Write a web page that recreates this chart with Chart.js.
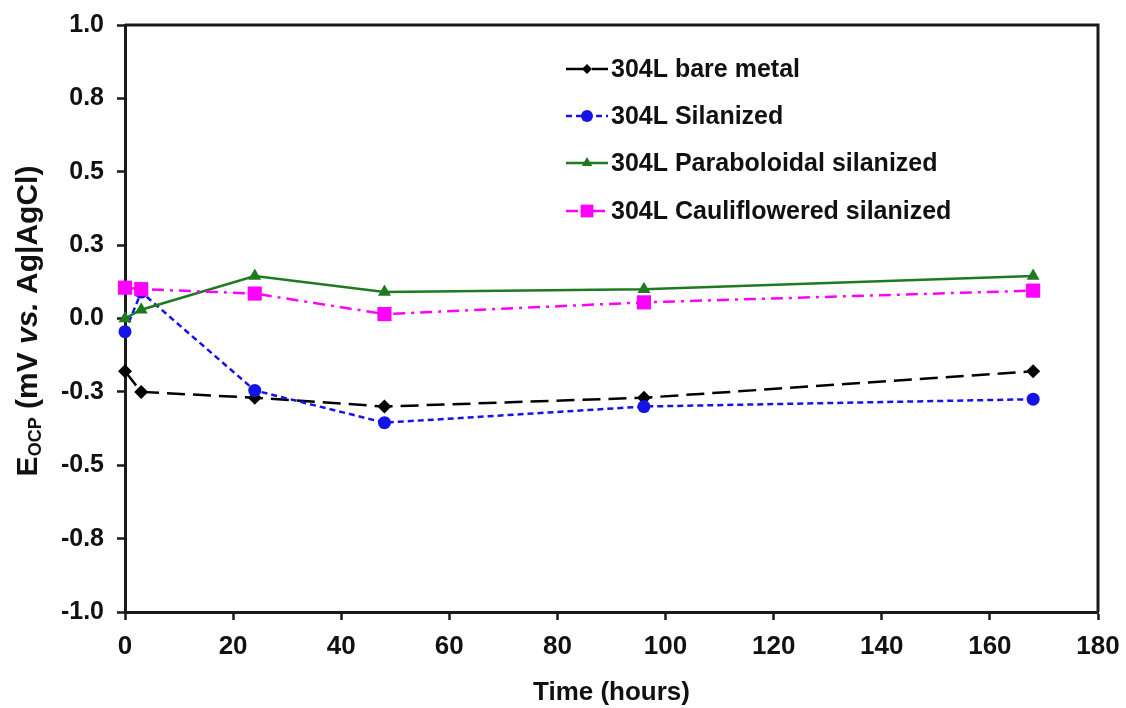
<!DOCTYPE html>
<html>
<head>
<meta charset="utf-8">
<script src="https://cdn.jsdelivr.net/npm/chart.js@4.4.1/dist/chart.umd.min.js"></script>
<style>
  html, body { margin: 0; padding: 0; background: #fff; }
  #wrap { width: 1126px; height: 708px; }
</style>
</head>
<body>
<div id="wrap"><canvas id="myChart" width="1126" height="708"></canvas></div>
<script>
// values (hours, V vs Ag|AgCl)
const times = [0, 3, 24, 48, 96, 168];
const bareMetal = [-0.18, -0.25, -0.27, -0.30, -0.27, -0.18];
const silanized = [-0.045, 0.09, -0.245, -0.355, -0.30, -0.275];
const paraboloidal = [0.0, 0.03, 0.145, 0.09, 0.10, 0.145];
const cauliflowered = [0.105, 0.10, 0.085, 0.015, 0.055, 0.095];

const seriesNames = ['304L bare metal', '304L Silanized', '304L Paraboloidal silanized', '304L Cauliflowered silanized'];
const yTickValues = [-1, -0.75, -0.5, -0.25, 0, 0.25, 0.5, 0.75, 1];
const yTickLabels = ['-1.0', '-0.8', '-0.5', '-0.3', '0.0', '0.3', '0.5', '0.8', '1.0'];

const FONT = "'Liberation Sans', Arial, sans-serif";

function toPoints(values) {
    return times.map((t, i) => ({ x: t, y: values[i] }));
}

// frame, y title and legend
const decorations = {
    id: 'decorations',
    afterDraw(chart) {
        const ctx = chart.ctx;
        const area = chart.chartArea;
        ctx.save();
        // top and right frame lines
        ctx.strokeStyle = '#1a1a1a';
        ctx.lineWidth = 3;
        ctx.beginPath();
        ctx.moveTo(area.left, area.top);
        ctx.lineTo(area.right, area.top);
        ctx.lineTo(area.right, area.bottom);
        ctx.stroke();

        // y axis title with subscript
        ctx.translate(29, 321);
        ctx.rotate(-Math.PI / 2);
        ctx.fillStyle = '#111';
        ctx.textBaseline = 'middle';
        const parts = [
            { t: 'E', f: 'bold 30px ' + FONT, dy: 0 },
            { t: 'OCP', f: 'bold 18px ' + FONT, dy: 7 },
            { t: ' (mV ', f: 'bold 30px ' + FONT, dy: 0 },
            { t: 'vs.', f: 'italic bold 30px ' + FONT, dy: 0 },
            { t: ' Ag|AgCl)', f: 'bold 30px ' + FONT, dy: 0 }
        ];
        let total = 0;
        parts.forEach(p => { ctx.font = p.f; p.w = ctx.measureText(p.t).width; total += p.w; });
        let x = -total / 2;
        parts.forEach(p => {
            ctx.font = p.f;
            ctx.fillText(p.t, x, p.dy);
            x += p.w;
        });
        ctx.restore();

        // legend
        ctx.save();
        const rows = [69, 116, 163, 211];
        chart.data.datasets.forEach((ds, i) => {
            const y = rows[i];
            ctx.strokeStyle = ds.borderColor;
            ctx.lineWidth = 2.5;
            ctx.setLineDash(ds.borderDash || []);
            ctx.beginPath();
            ctx.moveTo(566, y);
            ctx.lineTo(608, y);
            ctx.stroke();
            ctx.setLineDash([]);
            ctx.fillStyle = ds.pointBackgroundColor;
            Chart.helpers.drawPoint(ctx, {
                pointStyle: ds.pointStyle,
                radius: ds.legendRadius,
                borderWidth: 0,
                rotation: 0
            }, 587, y);
            ctx.fillStyle = '#111';
            ctx.font = 'bold 25px ' + FONT;
            ctx.textBaseline = 'middle';
            ctx.fillText(seriesNames[i], 611, y + 1);
        });
        ctx.restore();
    }
};

const ctx = document.getElementById('myChart').getContext('2d');
new Chart(ctx, {
    type: 'line',
    data: {
        datasets: [
            {
                label: seriesNames[0],
                data: toPoints(bareMetal),
                borderColor: '#000000',
                borderWidth: 2.5,
                borderDash: [18, 8],
                pointStyle: 'rectRot',
                pointRadius: 7,
                legendRadius: 5,
                pointBackgroundColor: '#000000',
                pointBorderWidth: 0,
                order: 4
            },
            {
                label: seriesNames[1],
                data: toPoints(silanized),
                borderColor: '#1414e6',
                borderWidth: 2.5,
                borderDash: [6, 4],
                pointStyle: 'circle',
                pointRadius: 6.5,
                legendRadius: 6,
                pointBackgroundColor: '#1414e6',
                pointBorderWidth: 0,
                order: 3
            },
            {
                label: seriesNames[2],
                data: toPoints(paraboloidal),
                borderColor: '#1f7a1f',
                borderWidth: 2.5,
                borderDash: [],
                pointStyle: 'triangle',
                pointRadius: 7.5,
                legendRadius: 6,
                pointBackgroundColor: '#1f7a1f',
                pointBorderWidth: 0,
                order: 2
            },
            {
                label: seriesNames[3],
                data: toPoints(cauliflowered),
                borderColor: '#ff00ff',
                borderWidth: 2.5,
                borderDash: [12, 6, 3, 6],
                pointStyle: 'rect',
                pointRadius: 10,
                legendRadius: 9,
                pointBackgroundColor: '#ff00ff',
                pointBorderWidth: 0,
                order: 1
            }
        ]
    },
    options: {
        responsive: false,
        animation: false,
        clip: false,
        layout: { padding: { left: 0, top: 25, right: 28, bottom: 0 } },
        elements: { line: { tension: 0, fill: false } },
        scales: {
            x: {
                type: 'linear',
                min: 0,
                max: 180,
                ticks: {
                    stepSize: 20,
                    color: '#111',
                    padding: 11,
                    maxRotation: 0,
                    font: { family: FONT, size: 26, weight: 'bold' }
                },
                grid: {
                    display: true,
                    drawOnChartArea: false,
                    drawTicks: true,
                    tickLength: 8,
                    tickWidth: 2.5,
                    tickColor: '#1a1a1a'
                },
                border: { display: true, color: '#1a1a1a', width: 3 },
                title: {
                    display: true,
                    text: 'Time (hours)',
                    color: '#111',
                    padding: { top: 0, bottom: 0 },
                    font: { family: FONT, size: 26, weight: 'bold' }
                },
                afterFit(scale) {
                    scale.height = 96;
                    scale.paddingLeft = 0;
                    scale.paddingRight = 0;
                }
            },
            y: {
                type: 'linear',
                min: -1,
                max: 1,
                afterBuildTicks(scale) {
                    scale.ticks = yTickValues.map(v => ({ value: v }));
                },
                ticks: {
                    color: '#111',
                    padding: 13,
                    font: { family: FONT, size: 25, weight: 'bold' },
                    callback: function (value, index) { return yTickLabels[index]; }
                },
                grid: {
                    display: true,
                    drawOnChartArea: false,
                    drawTicks: true,
                    tickLength: 8,
                    tickWidth: 2.5,
                    tickColor: '#1a1a1a'
                },
                border: { display: true, color: '#1a1a1a', width: 3 },
                afterFit(scale) {
                    scale.width = 125;
                    scale.paddingTop = 0;
                    scale.paddingBottom = 0;
                }
            }
        },
        plugins: {
            legend: { display: false },
            tooltip: { enabled: false }
        }
    },
    plugins: [decorations]
});
</script>
</body>
</html>
